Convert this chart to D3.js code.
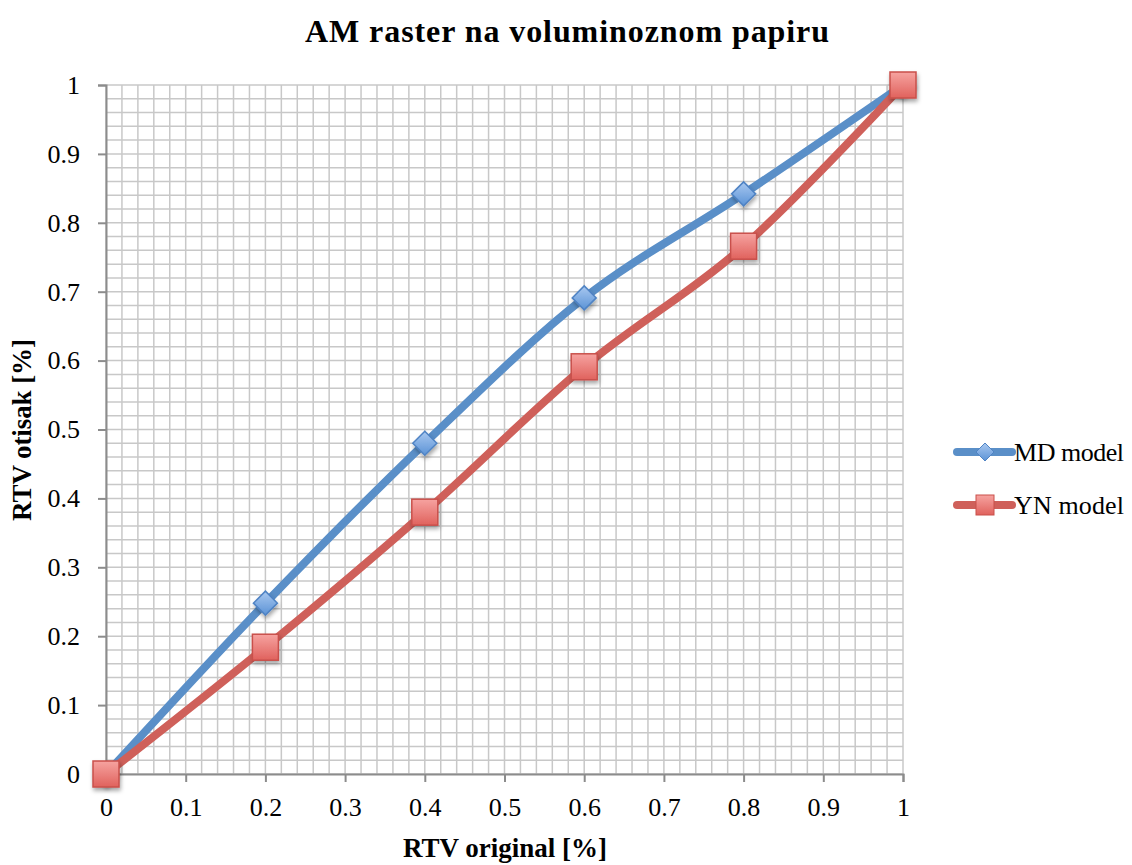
<!DOCTYPE html>
<html><head><meta charset="utf-8">
<script src="https://cdn.jsdelivr.net/npm/d3@7"></script>
<style>body{margin:0;background:#fff}</style>
</head><body>
<svg id="c" width="1132" height="865"></svg>
<script>
const xValues = [0, 0.2, 0.4, 0.6, 0.8, 1];
const mdValues = [0, 0.248, 0.48, 0.691, 0.842, 1];
const ynValues = [0, 0.184, 0.38, 0.591, 0.766, 1];
const seriesNames = ["MD model", "YN model"];
const tickLabels = ["0","0.1","0.2","0.3","0.4","0.5","0.6","0.7","0.8","0.9","1"];
const title = "AM raster na voluminoznom papiru";
const xTitle = "RTV original [%]";
const yTitle = "RTV otisak [%]";

const svg = d3.select("#c");
const serif = "'Liberation Serif', 'DejaVu Serif', serif";
const L = 106, R = 903, T = 85, B = 774;
const x = d3.scaleLinear().domain([0,1]).range([L,R]);
const y = d3.scaleLinear().domain([0,1]).range([B,T]);

const defs = svg.append("defs");
const f = defs.append("filter").attr("id","sh").attr("x","-50%").attr("y","-50%").attr("width","200%").attr("height","200%");
f.append("feDropShadow").attr("dx",1).attr("dy",3).attr("stdDeviation",2).attr("flood-color","#000").attr("flood-opacity",0.35);
const gb = defs.append("linearGradient").attr("id","gb").attr("x1",0).attr("y1",0).attr("x2",0).attr("y2",1);
gb.append("stop").attr("offset","0").attr("stop-color","#a9c8f0");
gb.append("stop").attr("offset","1").attr("stop-color","#5b93d6");
const gr = defs.append("linearGradient").attr("id","gr").attr("x1",0).attr("y1",0).attr("x2",0).attr("y2",1);
gr.append("stop").attr("offset","0").attr("stop-color","#f6a3a0");
gr.append("stop").attr("offset","1").attr("stop-color","#e0625d");

// grid
const minor = d3.range(0, 1.0001, 0.02);
svg.append("g").selectAll("line.v").data(minor).join("line")
  .attr("x1", d=>x(d)).attr("x2", d=>x(d)).attr("y1", T).attr("y2", B)
  .attr("stroke","#c8c8c8").attr("stroke-width",1.5);
svg.append("g").selectAll("line.h").data(minor).join("line")
  .attr("y1", d=>y(d)).attr("y2", d=>y(d)).attr("x1", L).attr("x2", R)
  .attr("stroke","#c8c8c8").attr("stroke-width",1.5);

// axes
const ticks = d3.range(0, 11).map(i => i/10);
const xAxis = d3.axisBottom(x).tickValues(ticks).tickFormat((d,i)=>tickLabels[i]).tickSize(8).tickPadding(16);
const yAxis = d3.axisLeft(y).tickValues(ticks).tickFormat((d,i)=>tickLabels[i]).tickSize(8).tickPadding(18);
const gx = svg.append("g").attr("transform",`translate(0,${B})`).call(xAxis);
const gy = svg.append("g").attr("transform",`translate(${L},0)`).call(yAxis);
[gx, gy].forEach(g => {
  g.attr("font-size", 26).attr("font-family", serif);
  g.select(".domain").attr("stroke","#8c8c8c").attr("stroke-width",2);
  g.selectAll(".tick line").attr("stroke","#8c8c8c").attr("stroke-width",2);
  g.selectAll("text").attr("font-family", serif).attr("font-size", 26).attr("fill","#000");
});

// lines
const line = d3.line().x((d,i)=>x(xValues[i])).y(d=>y(d)).curve(d3.curveCardinal.tension(0));
const series = [
  {name: seriesNames[0], values: mdValues, color: "#5a8fc8", marker: "diamond"},
  {name: seriesNames[1], values: ynValues, color: "#cf605a", marker: "square"}
];
series.forEach(s => {
  svg.append("path").datum(s.values).attr("d", line).attr("fill","none")
    .attr("stroke", s.color).attr("stroke-width", 8).attr("stroke-linecap","round").attr("stroke-linejoin","round");
});
function drawMarker(g, type, cx, cy) {
  if (type === "diamond") {
    g.append("path").attr("d", `M${cx},${cy-12}L${cx+12},${cy}L${cx},${cy+12}L${cx-12},${cy}Z`)
      .attr("fill","url(#gb)").attr("stroke","#4f83c4").attr("stroke-width",1.5).attr("filter","url(#sh)");
  } else {
    g.append("rect").attr("x", cx-13).attr("y", cy-13).attr("width",26).attr("height",26)
      .attr("fill","url(#gr)").attr("stroke","#c9504b").attr("stroke-width",1.5).attr("filter","url(#sh)");
  }
}
series.forEach(s => {
  const g = svg.append("g");
  s.values.forEach((v,i) => drawMarker(g, s.marker, x(xValues[i]), y(v)));
});

// legend
series.forEach((s,i) => {
  const ly = 452 + i*53;
  const g = svg.append("g");
  g.append("line").attr("x1",957).attr("x2",1012).attr("y1",ly).attr("y2",ly)
    .attr("stroke", s.color).attr("stroke-width",8).attr("stroke-linecap","round");
  if (s.marker === "diamond") {
    g.append("path").attr("d", `M985,${ly-9}L994,${ly}L985,${ly+9}L976,${ly}Z`)
      .attr("fill","url(#gb)").attr("stroke","#4f83c4").attr("stroke-width",1);
  } else {
    g.append("rect").attr("x",976).attr("y",ly-10).attr("width",18).attr("height",20)
      .attr("fill","url(#gr)").attr("stroke","#c9504b").attr("stroke-width",1);
  }
  g.append("text").attr("x",1014).attr("y",ly).attr("dy","0.35em")
    .attr("font-family",serif).attr("font-size",26).attr("textLength",110).attr("lengthAdjust","spacing").text(s.name);
});

// titles
svg.append("text").attr("x",567).attr("y",42).attr("text-anchor","middle")
  .attr("font-family",serif).attr("font-weight","bold").attr("font-size",32)
  .attr("textLength",524).attr("lengthAdjust","spacing").text(title);
svg.append("text").attr("x",505).attr("y",857).attr("text-anchor","middle")
  .attr("font-family",serif).attr("font-weight","bold").attr("font-size",27)
  .attr("textLength",204).attr("lengthAdjust","spacing").text(xTitle);
svg.append("text").attr("transform","translate(31,430) rotate(-90)").attr("text-anchor","middle")
  .attr("font-family",serif).attr("font-weight","bold").attr("font-size",27)
  .attr("textLength",182).attr("lengthAdjust","spacing").text(yTitle);
</script>
</body></html>
